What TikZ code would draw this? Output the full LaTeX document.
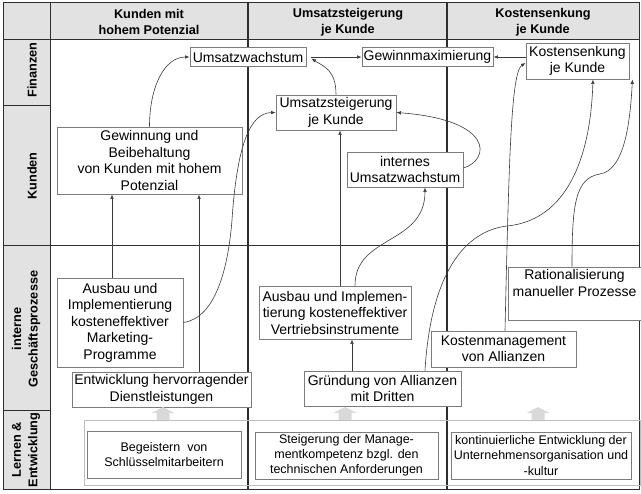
\documentclass[tikz,border=0pt]{standalone}
\usepackage{fontspec}
\setmainfont{Liberation Sans}
\usetikzlibrary{arrows.meta}
\definecolor{sidebg}{HTML}{E2E2E2}
\definecolor{gridc}{HTML}{2E2E2E}
\definecolor{bord}{HTML}{7C7C7C}
\definecolor{lbord}{HTML}{BDBDBD}
\definecolor{connc}{HTML}{3A3A3A}
\definecolor{garrowc}{HTML}{D9D9D9}
\tikzset{
 box/.style={draw=bord, fill=white, line width=0.9pt, inner sep=0pt, align=center, font=\fontsize{14}{16.5}\selectfont},
 lbox/.style={draw=bord, line width=0.9pt, inner sep=0pt, align=center, font=\fontsize{12.5}{15.2}\selectfont, minimum height=47pt},
 conn/.style={draw=connc, line width=0.6pt, -{Latex[length=4.5pt,width=3.6pt]}},
 hdr/.style={font=\bfseries\fontsize{12.7}{16.5}\selectfont, align=center},
 side/.style={font=\bfseries\fontsize{12.7}{16.5}\selectfont, align=center, rotate=90},
 gridline/.style={draw=gridc, line width=1pt},
 coldiv/.style={draw=gridc, line width=1.6pt},
}
\begin{document}
\begin{tikzpicture}[x=1pt,y=-1pt]
\useasboundingbox (0,0) rectangle (641,494);
% backgrounds
\fill[sidebg] (3,3) rectangle (50,490);
\fill[sidebg] (3,3) rectangle (639,40);
% grid
\draw[gridline] (3,40) -- (639,40);
\draw[gridline] (3,246) -- (639,246);
\draw[gridline] (3,106) -- (50,106);
\draw[gridline] (3,411) -- (50,411);
\draw[gridline] (50,3) -- (50,490);
\draw[coldiv] (248,3) -- (248,490);
\draw[coldiv] (447,3) -- (447,490);
\draw[gridline] (3,3) rectangle (639,490);
% headers
\node[hdr] (h1) at (149,22) {Kunden mit\\hohem Potenzial};
\node[hdr] (h2) at (348,22) {Umsatzsteigerung\\je Kunde};
\node[hdr] (h3) at (543,22) {Kostensenkung\\je Kunde};
% side labels
\node[side] (s1) at (32,70) {Finanzen};
\node[side] (s2) at (32,176) {Kunden};
\node[side] (s3) at (26,329) {interne\\Geschäftsprozesse};
\node[side] (s4) at (26,450) {Lernen \&\\Entwicklung};
% main nodes
\node[box, minimum width=116pt, minimum height=19pt] (uw) at (248,57) {Umsatzwachstum};
\node[box, minimum width=131pt, minimum height=19pt] (gm) at (427.5,57) {Gewinnmaximierung};
\node[box, minimum width=103pt, minimum height=36pt] (ks) at (577.5,61) {Kostensenkung\\je Kunde};
\node[box, minimum width=120pt, minimum height=35pt] (us) at (336,112.5) {Umsatzsteigerung\\je Kunde};
\node[box, minimum width=116pt, minimum height=35pt] (iu) at (405,169.5) {internes\\Umsatzwachstum};
\node[box, minimum width=185pt, minimum height=67pt] (gb) at (149.5,160.5) {Gewinnung und\\Beibehaltung\\von Kunden mit hohem\\Potenzial};
\node[box, minimum width=126pt, minimum height=89pt] (mk) at (120,322.5) {Ausbau und\\Implementierung\\kosteneffektiver\\Marketing-\\Programme};
\node[box, minimum width=179pt, minimum height=35pt] (ed) at (161.5,389.5) {Entwicklung hervorragender\\Dienstleistungen};
\node[box, minimum width=152pt, minimum height=53pt] (vi) at (335,312.5) {Ausbau und Implemen-\\tierung kosteneffektiver\\Vertriebsinstrumente};
\node[box, minimum width=157pt, minimum height=35pt] (ga) at (382.5,388.5) {Gründung von Allianzen\\mit Dritten};
\node[box, minimum width=145pt, minimum height=36pt] (km) at (503.5,349) {Kostenmanagement\\von Allianzen};
\node[box, minimum width=133pt, minimum height=53pt] (rp) at (574.5,293.5) {Rationalisierung\\manueller Prozesse\\\strut};
% learning area
\node[draw=lbord, line width=0.9pt, inner sep=0pt, minimum width=556pt, minimum height=65pt] (lbg) at (362,452.5) {};
\node[lbox, minimum width=154pt] (l1) at (164,454.5) {Begeistern~ von\\Schlüsselmitarbeitern};
\node[lbox, minimum width=183pt] (l2) at (346.5,455.5) {Steigerung der Manage-\\mentkompetenz bzgl. den\\technischen Anforderungen};
\node[lbox, minimum width=180pt] (l3) at (541,455.5) {kontinuierliche Entwicklung der\\Unternehmensorganisation und\\-kultur};
% gray block arrows
\foreach \gx in {163,345,538}{
  \fill[garrowc] (\gx-6.5,420) -- (\gx-6.5,413) -- (\gx-11.5,413) -- (\gx,407) -- (\gx+11.5,413) -- (\gx+6.5,413) -- (\gx+6.5,420) -- cycle;
}
% helper coordinates
\coordinate (m1) at ([xshift=-8]mk.north);
\coordinate (n1) at ([xshift=37.5]ed.north);
\coordinate (i1) at ([xshift=-30.5]ga.north);
\coordinate (j1) at ([xshift=5]vi.north);
\coordinate (k1) at ([xshift=20]vi.north);
\coordinate (f1) at ([xshift=42.5]ga.north);
\coordinate (e1) at ([xshift=1.5]km.north);
\coordinate (g1) at ([xshift=-2.5]rp.north);
\coordinate (uwR) at ([xshift=5,yshift=-1.5]uw.east);
% connectors
\draw[conn] (gb.north) .. controls +(0,-40) and +(-25,0) .. (uw.west);
\draw[conn] (us.north) .. controls +(0,-25) and +(12,8) .. (uwR);
\draw[conn] ([xshift=5]uw.east) -- (gm.west);
\draw[conn] (ks.west |- gm.east) -- (gm.east);
\draw[conn] (e1) .. controls (509,160) and (511,72) .. ([yshift=-2]ks.west);
\draw[conn] (f1) .. controls (430,285) and (458,232) .. (507,226) .. controls (560,221) and (590,170) .. ([xshift=15.5]ks.south);
\draw[conn] (g1) .. controls (572,205) and (575,178) .. (600,174) .. controls (624,170) and (630,125) .. ([xshift=3]ks.south east);
\draw[conn] ([yshift=1.5]iu.east) .. controls (490,160) and (495,120) .. (us.east);
\draw[conn] (i1) -- (i1 |- vi.south);
\draw[conn] (j1) -- (j1 |- us.south);
\draw[conn] (k1) .. controls (355,235) and (425,245) .. ([xshift=20]iu.south);
\draw[conn] (mk.east) .. controls (215,318) and (228,270) .. (232,220) .. controls (237,145) and (250,113) .. (us.west);
\draw[conn] (m1) -- (m1 |- gb.south);
\draw[conn] (n1) -- (n1 |- gb.south);
\end{tikzpicture}
\end{document}
